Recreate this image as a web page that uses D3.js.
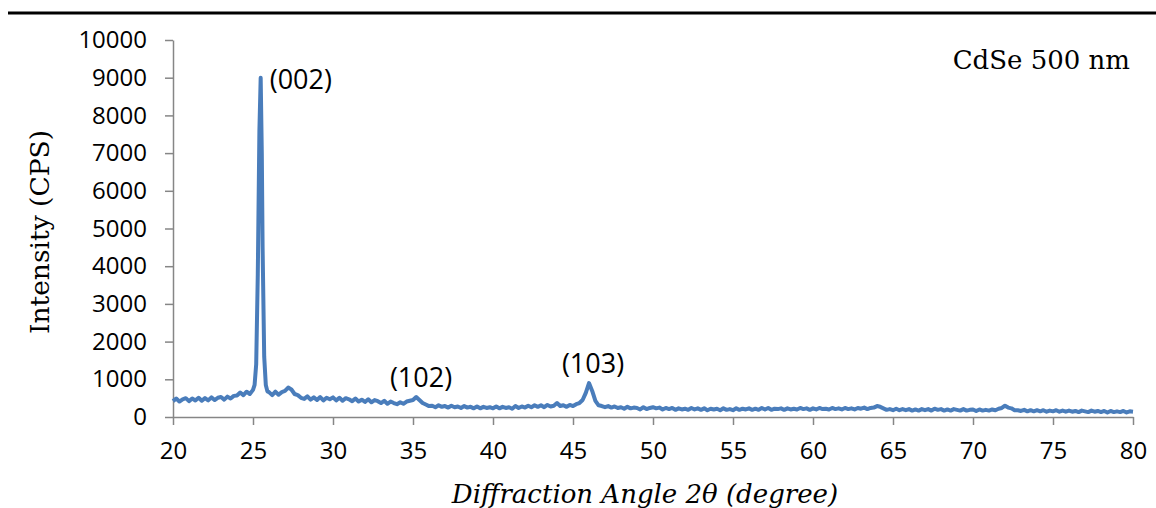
<!DOCTYPE html>
<html>
<head>
<meta charset="utf-8">
<script src="https://cdn.jsdelivr.net/npm/d3@7"></script>
<style>
  body { margin: 0; background: #fff; }
  svg { display: block; }
</style>
</head>
<body>
<div id="chart"></div>
<script>
// XRD scan: 0.2 degree steps from 20 to 80
var scanStart = 20;
var scanStep = 0.2;
var scanCounts = [
  420, 490, 410, 470, 500,
  420, 490, 440, 510, 430,
  500, 440, 520, 450, 510,
  530, 460, 540, 490, 560,
  570, 650, 580, 670, 610,
  720, null, null, null, null,
  660, 580, 670, 590, 660,
  690, 780, 730, 610, 580,
  510, 480, 550, 460, 520,
  450, 530, 440, 510, 470,
  520, 440, 510, 430, 500,
  470, 420, 490, 410, 460,
  400, 470, 390, 450, 420,
  370, 430, 350, 410, 370,
  340, 390, 350, 410, 430,
  450, 530, 450, 370, 330,
  290, 300, 260, 310, 270,
  290, 250, 300, 260, 280,
  240, 290, 250, 270, 230,
  280, 230, 270, 240, 260,
  230, 280, 230, 270, 240,
  260, 220, 290, 240, 280,
  250, 300, 260, 310, 270,
  310, 260, 320, 280, 300,
  370, 290, 310, 270, 320,
  290, 340, 370, 450, 640,
  900, 690, 430, 310, 290,
  260, 290, 250, 280, 240,
  260, 220, 270, 230, 250,
  240, 200, 260, 210, 240,
  260, 230, 250, 200, 240,
  210, 240, 190, 230, 200,
  220, 190, 240, 200, 230,
  190, 230, 180, 220, 200,
  220, 180, 230, 190, 210,
  180, 230, 190, 220, 200,
  230, 190, 220, 190, 240,
  200, 240, 190, 220, 210,
  230, 190, 230, 200, 220,
  200, 240, 210, 230, 190,
  230, 200, 240, 210, 220,
  200, 240, 210, 230, 200,
  240, 210, 230, 200, 240,
  220, 250, 210, 240, 250,
  290, 270, 230, 190, 210,
  180, 220, 180, 210, 180,
  210, 170, 200, 170, 210,
  180, 210, 170, 220, 190,
  210, 170, 200, 170, 210,
  190, 170, 210, 170, 190,
  200, 160, 200, 170, 190,
  170, 200, 180, 220, 240,
  300, 250, 230, 180, 180,
  160, 190, 150, 180, 150,
  180, 150, 180, 140, 170,
  150, 180, 140, 170, 140,
  170, 140, 160, 130, 170,
  150, 130, 170, 140, 160,
  130, 160, 120, 160, 130,
  150, 130, 160, 120, 150,
  140
];

// the (002) reflection needs finer steps
var peakAngles = [25.1, 25.2, 25.3, 25.4, 25.48, 25.55, 25.6, 25.7, 25.8, 25.9];
var peakCounts = [850, 1400, 3800, 7600, 9000, 7000, 4500, 1600, 850, 680];

var labelText = ["(002)", "(102)", "(103)"];
var labelAngle = [25.48, 35.25, 46.0];
var labelCount = [9000, 530, 900];

var xTicks = [20, 25, 30, 35, 40, 45, 50, 55, 60, 65, 70, 75, 80];
var yTicks = [0, 1000, 2000, 3000, 4000, 5000, 6000, 7000, 8000, 9000, 10000];

var width = 1156;
var height = 508;
var margin = ({ top: 40, right: 23, bottom: 91, left: 173 });

var data = [];
scanCounts.forEach(function(c, i) {
  if (c !== null) data.push({ angle: scanStart + i * scanStep, cps: c });
});
peakAngles.forEach(function(a, i) { data.push({ angle: a, cps: peakCounts[i] }); });
data.sort(function(a, b) { return a.angle - b.angle; });

var svg = d3.select("#chart")
  .append("svg")
  .attr("width", width)
  .attr("height", height);

// rule across the top of the page
svg.append("line")
  .attr("x1", 8).attr("x2", width)
  .attr("y1", 13).attr("y2", 13)
  .attr("stroke", "#000")
  .attr("stroke-width", 3);

var x = d3.scaleLinear()
  .domain([20, 80])
  .range([margin.left, width - margin.right]);

var y = d3.scaleLinear()
  .domain([0, 10000])
  .range([height - margin.bottom, margin.top]);

var axisColor = "#868686";
var tickFont = "'Open Sans', sans-serif";

var xAxis = g => g
  .attr("transform", `translate(0, ${height - margin.bottom})`)
  .call(d3.axisBottom(x).tickValues(xTicks).tickFormat(d3.format("d"))
    .tickSize(8).tickSizeOuter(0).tickPadding(17))
  .call(g => g.selectAll("path, line").attr("stroke", axisColor).attr("stroke-width", 1.5))
  .call(g => g.selectAll("text").attr("fill", "#000")
    .style("font-family", tickFont).style("font-size", "24px"));

var yAxis = g => g
  .attr("transform", `translate(${margin.left}, 0)`)
  .call(d3.axisLeft(y).tickValues(yTicks).tickFormat(d3.format("d"))
    .tickSize(8).tickSizeOuter(0).tickPadding(18))
  .call(g => g.selectAll("path, line").attr("stroke", axisColor).attr("stroke-width", 1.5))
  .call(g => g.selectAll("text").attr("fill", "#000")
    .style("font-family", tickFont).style("font-size", "24px"));

svg.append("g").call(yAxis);
svg.append("g").call(xAxis);

var line = d3.line()
  .x(d => x(d.angle))
  .y(d => y(d.cps));

svg.append("path")
  .datum(data)
  .attr("fill", "none")
  .attr("stroke", "#4a7dbb")
  .attr("stroke-width", 4)
  .attr("stroke-linejoin", "round")
  .attr("d", line);

// peak labels
svg.append("text")
  .attr("x", x(labelAngle[0]) + 9)
  .attr("y", y(labelCount[0]) + 11)
  .style("font-family", tickFont)
  .style("font-size", "27px")
  .text(labelText[0]);

[1, 2].forEach(function(i) {
  svg.append("text")
    .attr("x", x(labelAngle[i]) + 4)
    .attr("y", y(labelCount[i]) - 10)
    .attr("text-anchor", "middle")
    .style("font-family", tickFont)
    .style("font-size", "27px")
    .text(labelText[i]);
});

var serif = "'DejaVu Serif', serif";

svg.append("text")
  .attr("x", 1130)
  .attr("y", 69)
  .attr("text-anchor", "end")
  .style("font-family", serif)
  .style("font-size", "26px")
  .text("CdSe 500 nm");

svg.append("text")
  .attr("transform", `translate(49, 232) rotate(270)`)
  .attr("text-anchor", "middle")
  .style("font-family", serif)
  .style("font-size", "26.5px")
  .text("Intensity (CPS)");

svg.append("text")
  .attr("x", 645)
  .attr("y", 503)
  .attr("text-anchor", "middle")
  .style("font-family", serif)
  .style("font-style", "italic")
  .style("font-size", "26px")
  .text("Diffraction Angle 2θ (degree)");
</script>
</body>
</html>
